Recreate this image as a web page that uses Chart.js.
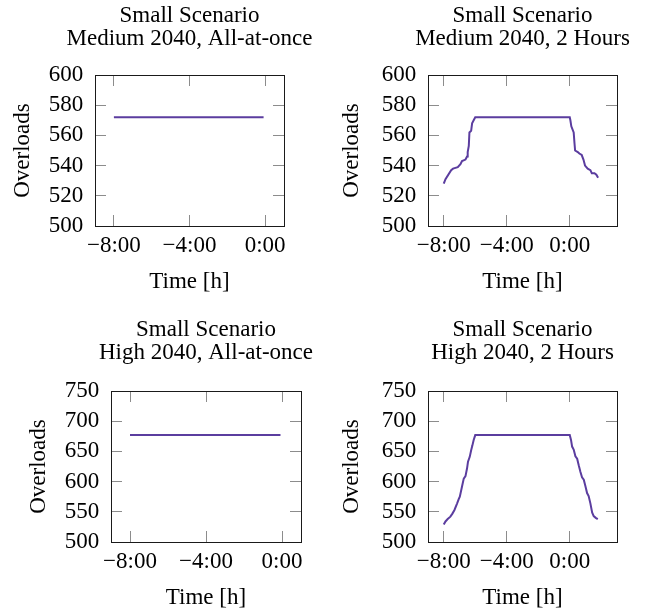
<!DOCTYPE html>
<html>
<head>
<meta charset="utf-8">
<script src="https://cdn.jsdelivr.net/npm/chart.js@4.4.1/dist/chart.umd.min.js"></script>
<style>
  body { margin: 0; background: #fff; overflow: hidden; }
  #wrap { position: relative; width: 656px; height: 611px; overflow: hidden; }
  canvas { position: absolute; }
</style>
</head>
<body>
<div id="wrap">
  <!-- each canvas is symmetric around its plot so the title centres on the axes -->
  <canvas id="mediumOnceChart" width="379" height="305" style="left:0;top:0"></canvas>
  <canvas id="mediumTwoHoursChart" width="389" height="305" style="left:328px;top:0"></canvas>
  <canvas id="highOnceChart" width="412" height="306" style="left:0;top:305px"></canvas>
  <canvas id="highTwoHoursChart" width="389" height="306" style="left:328px;top:305px"></canvas>
</div>
<script>
// time axis in hours, relative to the event
const timeTicks = [-8, -4, 0];
const mediumTicks = [500, 520, 540, 560, 580, 600];
const highTicks = [500, 550, 600, 650, 700, 750];

// all-at-once: constant number of overloads
const onceTimes = [-8, -0.08];
const mediumOnce = [572, 572];
const highOnce = [677, 677];

// 2 hours: ramp up before, ramp down after
const mediumTwoHoursTimes = [-8, -7.89, -7.53, -7.41, -7.11, -6.94, -6.84, -6.62, -6.52, -6.48, -6.41, -6.37, -6.26, -6.2, -6.1, -6,
    0, 0.04, 0.1, 0.25, 0.3, 0.34, 0.51, 0.61, 0.76, 0.87, 0.97, 1.14, 1.31, 1.4, 1.57, 1.69, 1.8];
const mediumTwoHours = [528, 531, 537, 538, 539, 541, 543, 544, 546, 549, 553, 562, 563, 568, 570, 572,
    572, 570, 566, 562, 555, 550, 549, 548, 547, 544, 540, 538, 537, 535, 535, 534, 532];

const highTwoHoursTimes = [-8, -7.89, -7.75, -7.58, -7.45, -7.32, -7.15, -7.05, -6.98, -6.84, -6.73, -6.62, -6.52, -6.46, -6.35, -6.26, -6.18, -6.1, -6,
    0, 0.08, 0.15, 0.25, 0.36, 0.47, 0.57, 0.68, 0.78, 0.89, 1, 1.1, 1.2, 1.31, 1.42, 1.52, 1.65, 1.78];
const highTwoHours = [529, 534, 538, 542, 547, 553, 564, 571, 575, 592, 605, 609, 622, 633, 641, 652, 660, 669, 677,
    677, 669, 658, 653, 642, 638, 627, 616, 607, 603, 592, 581, 576, 564, 549, 543, 540, 538];

const serif = "'Liberation Serif', 'Times New Roman', serif";
const lineColor = '#5b3d9f';
const frameColor = '#1a1a1a';
const tickColor = '#8c8c8c';
const tickLen = 11;

function hoursLabel(value) {
    const sign = value < 0 ? '\u2212' : '';
    return sign + Math.abs(value) + ':00';
}

function useTicks(list) {
    return scale => { scale.ticks = list.map(v => ({ value: v })); };
}

function fixSize(prop, size) {
    return scale => { scale[prop] = size; };
}

function createPanel(elementId, cfg) {
    const font = { family: serif, size: 23, lineHeight: 1 };
    const frame = { display: true, color: frameColor, width: 1 };
    // pgfplots-like tick marks pointing into the plot on every side
    const inward = { drawOnChartArea: false, drawTicks: true, tickLength: -tickLen, color: tickColor, lineWidth: 1 };
    const hidden = { display: false };

    const ctx = document.getElementById(elementId).getContext('2d');
    return new Chart(ctx, {
        type: 'line',
        data: {
            datasets: [{
                data: cfg.times.map((t, i) => ({ x: t, y: cfg.values[i] })),
                borderColor: lineColor,
                borderWidth: 2,
                pointRadius: 0,
                tension: 0,
                fill: false
            }]
        },
        options: {
            responsive: false,
            animation: false,
            layout: { padding: 0 },
            plugins: {
                legend: { display: false },
                tooltip: { enabled: false },
                title: {
                    display: true,
                    text: cfg.title,
                    color: '#000',
                    font: { family: serif, size: 23, weight: 'normal', lineHeight: 1 },
                    padding: { top: cfg.titleTop, bottom: cfg.titleGap }
                }
            },
            scales: {
                x: {
                    type: 'linear', position: 'bottom',
                    min: cfg.xMin, max: cfg.xMax,
                    afterBuildTicks: useTicks(timeTicks),
                    afterFit: fixSize('height', cfg.xHeight),
                    border: frame,
                    grid: inward,
                    ticks: { color: '#000', font, padding: 19, maxRotation: 0, autoSkip: false, callback: hoursLabel },
                    title: { display: true, text: 'Time [h]', color: '#000', font, padding: { top: 0, bottom: cfg.xTitleGap } }
                },
                xTop: {
                    type: 'linear', position: 'top',
                    min: cfg.xMin, max: cfg.xMax,
                    afterBuildTicks: useTicks(timeTicks),
                    afterFit: fixSize('height', 0),
                    border: frame,
                    grid: inward,
                    ticks: hidden
                },
                y: {
                    type: 'linear', position: 'left',
                    min: cfg.yTicks[0], max: cfg.yTicks[cfg.yTicks.length - 1],
                    afterBuildTicks: useTicks(cfg.yTicks),
                    afterFit: fixSize('width', cfg.yWidth),
                    border: frame,
                    grid: inward,
                    ticks: { color: '#000', font, padding: 22.7, autoSkip: false },
                    title: { display: true, text: 'Overloads', color: '#000', font, padding: { top: cfg.yTitleGap, bottom: 0 } }
                },
                yRight: {
                    // same width as the left axis, keeps the plot centred under the title
                    type: 'linear', position: 'right',
                    min: cfg.yTicks[0], max: cfg.yTicks[cfg.yTicks.length - 1],
                    afterBuildTicks: useTicks(cfg.yTicks),
                    afterFit: fixSize('width', cfg.yWidth),
                    border: frame,
                    grid: inward,
                    ticks: hidden
                }
            }
        }
    });
}

createPanel('mediumOnceChart', {
    title: ['Small Scenario', 'Medium 2040, All-at-once'],
    times: onceTimes, values: mediumOnce, yTicks: mediumTicks,
    xMin: -9, xMax: 1,
    yWidth: 95, titleTop: 4, titleGap: 25, xHeight: 79, xTitleGap: 11.5, yTitleGap: 11.5
});
createPanel('mediumTwoHoursChart', {
    title: ['Small Scenario', 'Medium 2040, 2 Hours'],
    times: mediumTwoHoursTimes, values: mediumTwoHours, yTicks: mediumTicks,
    xMin: -9, xMax: 3,
    yWidth: 100, titleTop: 4, titleGap: 25, xHeight: 79, xTitleGap: 11.5, yTitleGap: 12.5
});
createPanel('highOnceChart', {
    title: ['Small Scenario', 'High 2040, All-at-once'],
    times: onceTimes, values: highOnce, yTicks: highTicks,
    xMin: -9, xMax: 1,
    yWidth: 111, titleTop: 13, titleGap: 27, xHeight: 69, xTitleGap: 1.5, yTitleGap: 27.5
});
createPanel('highTwoHoursChart', {
    title: ['Small Scenario', 'High 2040, 2 Hours'],
    times: highTwoHoursTimes, values: highTwoHours, yTicks: highTicks,
    xMin: -9, xMax: 3,
    yWidth: 100, titleTop: 13, titleGap: 27, xHeight: 69, xTitleGap: 1.5, yTitleGap: 12.5
});
</script>
</body>
</html>
